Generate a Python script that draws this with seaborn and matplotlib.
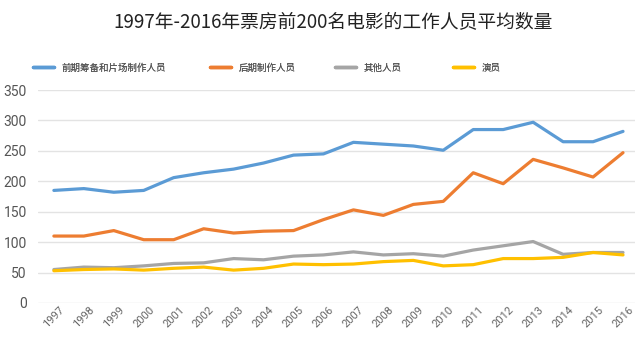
import pandas as pd
import matplotlib.pyplot as plt
import seaborn as sns

# Data
years = list(range(1997, 2017))
pre_production = [185, 188, 182, 185, 206, 214, 220, 230, 243, 245,
                  264, 261, 258, 251, 285, 285, 297, 265, 265, 282]
post_production = [110, 110, 119, 104, 104, 122, 115, 118, 119, 137,
                   153, 144, 162, 167, 214, 196, 236, 222, 207, 247]
others = [55, 59, 58, 61, 65, 66, 73, 71, 77, 79,
          84, 79, 81, 77, 87, 94, 101, 80, 83, 83]
actors = [53, 55, 56, 54, 57, 59, 54, 57, 64, 63,
          64, 68, 70, 61, 63, 73, 73, 75, 83, 79]

series_names = ["前期筹备和片场制作人员", "后期制作人员", "其他人员", "演员"]
colors = ["#5b9bd5", "#ed7d31", "#a5a5a5", "#ffc000"]

df = pd.DataFrame({
    "year": years * 4,
    "value": pre_production + post_production + others + actors,
    "series": sum([[n] * len(years) for n in series_names], []),
})

sns.set_style("white")
plt.rcParams["font.family"] = ["Noto Sans CJK SC", "DejaVu Sans"]

fig = plt.figure(figsize=(6.4, 3.5), dpi=100)
ax = fig.add_axes([38 / 640, 1 - 303 / 350, 597 / 640, 213 / 350])

sns.lineplot(
    data=df, x="year", y="value", hue="series",
    palette=colors, hue_order=series_names,
    linewidth=2.3, ax=ax, legend=False
)

ax.set_xlim(1996.47, 2016.4)
ax.set_ylim(0, 350)
ax.set_yticks(range(0, 351, 50))
ax.set_xticks(years)
ax.set_xticklabels([str(y) for y in years], rotation=45, fontsize=8,
                   color="#666666", family=["Roboto", "DejaVu Sans"])
ax.tick_params(axis="y", labelsize=10, colors="#555555", pad=8, length=0)
for lbl in ax.get_yticklabels():
    lbl.set_family(["Roboto", "DejaVu Sans"])
ax.tick_params(axis="x", length=0, pad=1)
ax.grid(axis="y", color="#e3e3e3", linewidth=1)
ax.set_axisbelow(True)
for s in ax.spines.values():
    s.set_visible(False)
ax.set_xlabel("")
ax.set_ylabel("")

# Legend: one entry per box, spaced like the original
legend_x = [33, 210, 335, 453]
for name, c, lx in zip(series_names, colors, legend_x):
    leg = fig.legend([plt.Line2D([0], [0], color=c, linewidth=2.5)], [name],
                     loc="center left", bbox_to_anchor=(lx / 640, 1 - 68 / 350),
                     frameon=False, fontsize=6.8, labelcolor="#555555",
                     handlelength=2.2, handletextpad=0.8,
                     borderpad=0, borderaxespad=0)
    fig.add_artist(leg)

fig.suptitle("1997年-2016年票房前200名电影的工作人员平均数量",
             x=0.52, y=0.965, fontsize=13.5, color="#222222")

fig.savefig("out.png", dpi=100)
